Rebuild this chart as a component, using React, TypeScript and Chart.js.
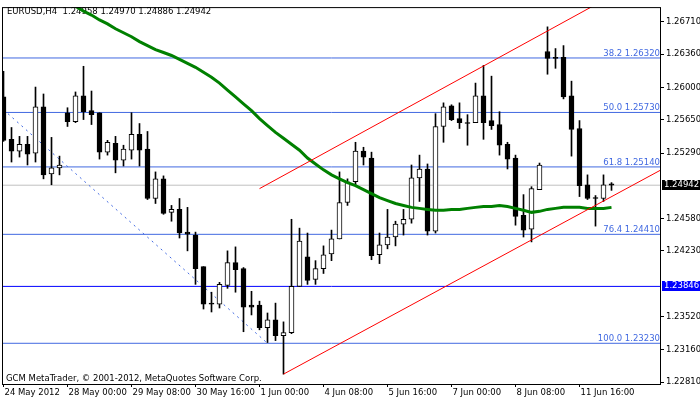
import React, { useEffect, useRef } from 'react';
import { Chart, registerables } from 'chart.js';

Chart.register(...registerables);

const symbolTitle = 'EURUSD,H4';
const lastQuote = ['1.24958', '1.24970', '1.24886', '1.24942'];
const copyright = 'GCM MetaTrader, © 2001-2012, MetaQuotes Software Corp.';

const opens = [1.25898,1.25439,1.25311,1.25385,1.25289,1.25791,1.25065,1.25129,1.25727,1.25631,
1.25909,1.25749,1.25727,1.25300,1.25396,1.25214,1.25321,1.25492,1.25332,1.24798,
1.25011,1.24648,1.24680,1.24434,1.24402,1.24060,1.23665,1.23654,1.23857,1.24103,
1.24039,1.23644,1.23644,1.23398,1.23483,1.23313,1.23345,1.23847,1.24167,1.23922,
1.24039,1.24199,1.24360,1.24755,1.24979,1.25311,1.25236,1.24189,1.24296,1.24381,
1.24520,1.24573,1.25022,1.25118,1.24445,1.25578,1.25802,1.25663,1.25620,1.25620,
1.25909,1.25642,1.25599,1.25385,1.25236,1.24616,1.24467,1.24894,1.26390,1.26326,
1.26326,1.25909,1.25556,1.24947,1.24808,1.24798,1.24958];

const highs = [1.26176,1.25567,1.25471,1.25471,1.26005,1.25930,1.25460,1.25257,1.25781,1.25952,
1.26230,1.25962,1.25727,1.25428,1.25471,1.25375,1.25727,1.25610,1.25524,1.25086,
1.25043,1.24723,1.24798,1.24702,1.24434,1.24060,1.23783,1.23890,1.24231,1.24274,
1.24050,1.23793,1.23686,1.23558,1.23665,1.23462,1.24573,1.24477,1.24424,1.24125,
1.24285,1.24456,1.25086,1.25011,1.25407,1.25353,1.25300,1.24424,1.24680,1.24552,
1.24680,1.25161,1.25268,1.25172,1.25717,1.25834,1.25813,1.25834,1.25706,1.26048,
1.26240,1.26123,1.25738,1.25407,1.25268,1.24840,1.24926,1.25182,1.26657,1.26422,
1.26454,1.26069,1.25642,1.25054,1.24830,1.25054,1.24970];

const lows = [1.25417,1.25193,1.25247,1.25161,1.25193,1.25011,1.24947,1.25054,1.25578,1.25620,
1.25653,1.25599,1.25225,1.25268,1.25076,1.25150,1.25225,1.25150,1.24787,1.24744,
1.24627,1.24552,1.24370,1.24231,1.23868,1.23601,1.23569,1.23612,1.23825,1.23783,
1.23355,1.23537,1.23376,1.23238,1.23259,1.22896,1.23334,1.23847,1.23868,1.23868,
1.23986,1.24125,1.24360,1.24723,1.24937,1.25161,1.24135,1.24093,1.24253,1.24285,
1.24402,1.24531,1.24766,1.24402,1.24424,1.25407,1.25642,1.25556,1.25375,1.25620,
1.25439,1.25546,1.25268,1.25118,1.24509,1.24381,1.24328,1.24894,1.26144,1.26208,
1.25877,1.25257,1.24819,1.24787,1.24499,1.24766,1.24886];

const closes = [1.25428,1.25311,1.25385,1.25279,1.25791,1.25054,1.25129,1.25161,1.25631,1.25909,
1.25738,1.25706,1.25300,1.25407,1.25214,1.25332,1.25492,1.25321,1.24798,1.25011,
1.24637,1.24680,1.24424,1.24413,1.24039,1.23654,1.23654,1.23868,1.24103,1.24028,
1.23622,1.23622,1.23398,1.23483,1.23313,1.23345,1.23847,1.24338,1.23911,1.24039,
1.24189,1.24360,1.24755,1.24979,1.25311,1.25247,1.24178,1.24296,1.24381,1.24520,
1.24573,1.25022,1.25118,1.24445,1.25578,1.25791,1.25653,1.25620,1.25610,1.25909,
1.25620,1.25588,1.25375,1.25225,1.24605,1.24456,1.24905,1.25161,1.26315,1.26315,
1.25898,1.25546,1.24937,1.24798,1.24798,1.24947,1.24942];

const maStart = 8;
const maValues = [1.26924,1.26881,1.26828,1.26785,1.26732,1.26689,1.26636,1.26593,1.26550,1.26497,
1.26454,1.26411,1.26379,1.26347,1.26304,1.26262,1.26219,1.26165,1.26112,1.26048,
1.25973,1.25898,1.25824,1.25749,1.25663,1.25588,1.25514,1.25450,1.25385,1.25321,
1.25236,1.25172,1.25108,1.25054,1.25011,1.24969,1.24937,1.24894,1.24851,1.24808,
1.24776,1.24744,1.24723,1.24702,1.24691,1.24680,1.24670,1.24670,1.24680,1.24680,
1.24691,1.24702,1.24712,1.24712,1.24723,1.24712,1.24691,1.24670,1.24648,1.24659,
1.24680,1.24691,1.24702,1.24702,1.24702,1.24691,1.24691,1.24691,1.24702];

const xTickIndexes = [0, 8, 16, 24, 32, 40, 48, 56, 64, 72];
const xTickLabels = ['24 May 2012', '28 May 00:00', '29 May 08:00', '30 May 16:00', '1 Jun 00:00',
  '4 Jun 08:00', '5 Jun 16:00', '7 Jun 00:00', '8 Jun 08:00', '11 Jun 16:00'];
const yTickValues = [1.26710, 1.26360, 1.26000, 1.25650, 1.25290, 1.24580, 1.24230, 1.23520, 1.23160, 1.22810];

const fibLevels = [1.26320, 1.25730, 1.25140, 1.24410, 1.23230];
const fibNames = ['38.2', '50.0', '61.8', '76.4', '100.0'];
const bidPrice = 1.24942;
const bluePrice = 1.23846;

const channelLower = [{ x: 35, y: 1.22896 }, { x: 83, y: 1.25146 }];
const channelUpper = [{ x: 32, y: 1.24905 }, { x: 76, y: 1.26992 }];
const fibTrend = [{ x: 0, y: 1.25759 }, { x: 33, y: 1.23230 }];

const xMin = -0.1875;
const xMax = 82.1875;
const yMin = 1.22789;
const yMax = 1.26871;

const FONT = '8.5px "DejaVu Sans"';

const overlayPlugin = {
  id: 'mtOverlay',
  beforeDatasetsDraw(chart: any) {
    const ctx = chart.ctx;
    const a = chart.chartArea;
    ctx.save();
    ctx.font = FONT;
    ctx.fillStyle = '#000';
    ctx.textBaseline = 'alphabetic';
    ctx.textAlign = 'left';
    ctx.fillText(symbolTitle + '  ' + lastQuote.join(' '), 7, 14);
    ctx.fillText(copyright, 6, a.bottom - 3);
    ctx.restore();
  },
  afterDatasetsDraw(chart: any) {
    const ctx = chart.ctx;
    const a = chart.chartArea;
    const ys = chart.scales.y;
    ctx.save();
    ctx.font = FONT;
    ctx.fillStyle = '#4169E1';
    ctx.textAlign = 'right';
    ctx.textBaseline = 'bottom';
    fibLevels.forEach((lv, i) => {
      const py = ys.getPixelForValue(lv);
      ctx.fillText(fibNames[i] + ' ' + lv.toFixed(5), a.right - 1, py);
    });
    ctx.restore();
  },
  afterDraw(chart: any) {
    const ctx = chart.ctx;
    const a = chart.chartArea;
    const ys = chart.scales.y;
    ctx.save();
    ctx.strokeStyle = '#000';
    ctx.lineWidth = 1;
    ctx.strokeRect(a.left + 0.5, a.top + 0.5, a.right - a.left - 1, a.bottom - a.top);
    ctx.font = FONT;
    ctx.textBaseline = 'middle';
    ctx.textAlign = 'left';
    const boxes = [
      { v: bidPrice, bg: '#000' },
      { v: bluePrice, bg: '#0000FF' },
    ];
    boxes.forEach((b) => {
      const py = Math.round(ys.getPixelForValue(b.v));
      ctx.fillStyle = b.bg;
      ctx.fillRect(a.right + 1, py - 5, 700 - a.right - 1, 10);
      ctx.fillStyle = '#fff';
      ctx.fillText(b.v.toFixed(5), a.right + 3, py);
    });
    ctx.restore();
  },
};

export default function App() {
  const ref = useRef<HTMLCanvasElement | null>(null);
  useEffect(() => {
    document.body.style.margin = '0';
    const canvas = ref.current;
    if (!canvas) return;
    const idx = opens.map((_, i) => i);
    const bodies = idx.map((i) => ({ x: i, y: [Math.min(opens[i], closes[i]), Math.max(opens[i], closes[i])] }));
    const bodyColors = idx.map((i) => (closes[i] >= opens[i] ? '#FFFFFF' : '#000000'));
    const wicks = idx.map((i) => ({ x: i, y: [lows[i], highs[i]] }));
    const ma = maValues.map((v, j) => ({ x: maStart + j, y: v }));
    const hline = (v: number) => [{ x: xMin, y: v }, { x: xMax, y: v }];

    const lineBase = { type: 'line', pointRadius: 0, borderWidth: 1, tension: 0, clip: 0, fill: false };

    const datasets: any[] = [
      ...fibLevels.map((lv) => ({ ...lineBase, data: hline(lv), borderColor: '#4169E1', order: 20 })),
      { ...lineBase, data: hline(bidPrice), borderColor: '#C0C0C0', order: 20 },
      { ...lineBase, data: hline(bluePrice), borderColor: '#0000FF', order: 20 },
      { ...lineBase, data: fibTrend, borderColor: '#4169E1', borderDash: [2, 4], order: 19 },
      {
        type: 'bar', data: wicks, backgroundColor: '#000', borderWidth: 0, barThickness: 1,
        grouped: false, clip: 0, order: 10,
      },
      {
        type: 'bar', data: bodies, backgroundColor: bodyColors, borderColor: '#000', borderWidth: 1,
        borderSkipped: false, barThickness: 5, minBarLength: 1, grouped: false, clip: 0, order: 9,
      },
      { ...lineBase, data: ma, borderColor: '#008000', borderWidth: 3, order: 5 },
      { ...lineBase, data: channelLower, borderColor: '#FF0000', order: 4 },
      { ...lineBase, data: channelUpper, borderColor: '#FF0000', order: 4 },
    ];

    const chart = new Chart(canvas, {
      type: 'bar',
      data: { datasets },
      plugins: [overlayPlugin],
      options: {
        animation: false,
        responsive: false,
        devicePixelRatio: 1,
        layout: { padding: { left: 2, top: 2, right: 0, bottom: 0 } },
        font: { family: 'DejaVu Sans', size: 8.5 },
        plugins: { legend: { display: false }, tooltip: { enabled: false }, title: { display: false } },
        events: [],
        scales: {
          x: {
            type: 'linear',
            min: xMin,
            max: xMax,
            offset: false,
            position: 'bottom',
            border: { display: false },
            grid: { display: true, drawOnChartArea: false, drawTicks: true, tickLength: 3, color: '#000', offset: false },
            afterBuildTicks: (scale: any) => {
              scale.ticks = xTickIndexes.map((v) => ({ value: v }));
            },
            afterFit: (scale: any) => {
              scale.height = 18;
            },
            ticks: {
              autoSkip: false,
              maxRotation: 0,
              minRotation: 0,
              align: 'start',
              labelOffset: 1,
              padding: 1,
              color: '#000',
              font: { family: 'DejaVu Sans', size: 8.5 },
              callback: (_v: any, i: number) => xTickLabels[i],
            },
          },
          y: {
            type: 'linear',
            min: yMin,
            max: yMax,
            position: 'right',
            border: { display: false },
            grid: { display: true, drawOnChartArea: false, drawTicks: true, tickLength: 3, color: '#000' },
            afterBuildTicks: (scale: any) => {
              scale.ticks = yTickValues.map((v) => ({ value: v }));
            },
            afterFit: (scale: any) => {
              scale.width = 39;
            },
            ticks: {
              autoSkip: false,
              padding: 2,
              color: '#000',
              font: { family: 'DejaVu Sans', size: 8.5 },
              callback: (v: any) => Number(v).toFixed(5),
            },
          },
        },
      } as any,
    } as any);
    return () => chart.destroy();
  }, []);
  return (
    <div style={{ width: 700, height: 402 }}>
      <canvas ref={ref} width={700} height={402} style={{ display: 'block' }} />
    </div>
  );
}
